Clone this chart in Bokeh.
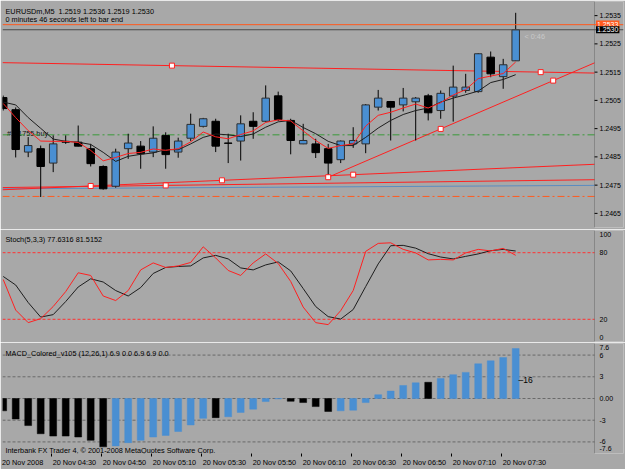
import numpy as np
from bokeh.plotting import figure
from bokeh.layouts import column
from bokeh.models import (Range1d, LinearAxis, FixedTicker, Span, Label, BoxAnnotation,
                          ColumnDataSource)
from bokeh.embed import file_html
from bokeh.resources import INLINE
from bokeh.core.properties import value

# ---------------- data ----------------
symbol_title = "EURUSDm,M5\u00a0 1.2519 1.2536 1.2519 1.2530"
timer_text = "0 minutes 46 seconds left to bar end"
bar_times = ["04:10", "04:15", "04:20", "04:25", "04:30", "04:35", "04:40", "04:45",
             "04:50", "04:55", "05:00", "05:05", "05:10", "05:15", "05:20", "05:25",
             "05:30", "05:35", "05:40", "05:45", "05:50", "05:55", "06:00", "06:05",
             "06:10", "06:15", "06:20", "06:25", "06:30", "06:35", "06:40", "06:45",
             "06:50", "06:55", "07:00", "07:05", "07:10", "07:15", "07:20", "07:25",
             "07:30", "07:35"]
tick_times = ["04:10", "04:30", "04:50", "05:10", "05:30", "05:50", "06:10",
              "06:30", "06:50", "07:10", "07:30"]
tick_labels = ["20 Nov 2008", "20 Nov 04:30", "20 Nov 04:50", "20 Nov 05:10",
               "20 Nov 05:30", "20 Nov 05:50", "20 Nov 06:10", "20 Nov 06:30",
               "20 Nov 06:50", "20 Nov 07:10", "20 Nov 07:30"]

opens = [1.25060, 1.25017, 1.24867, 1.24879, 1.24828, 1.24905, 1.24902, 1.24879,
         1.24816, 1.24746, 1.24879, 1.24888, 1.24867, 1.24926, 1.24867, 1.24916,
         1.24958, 1.24976, 1.24899, 1.24906, 1.24976, 1.24976, 1.25066, 1.24979,
         1.24896, 1.24896, 1.24879, 1.24840, 1.24896, 1.24896, 1.25026, 1.25046,
         1.25034, 1.25045, 1.25066, 1.25014, 1.25065, 1.25085, 1.25081, 1.25203,
         1.25134, 1.2519]
highs = [1.25067, 1.25025, 1.24920, 1.24890, 1.24926, 1.24926, 1.24961, 1.24896,
         1.24820, 1.24879, 1.24932, 1.24906, 1.24958, 1.24937, 1.24918, 1.25003,
         1.24988, 1.24985, 1.24932, 1.24997, 1.25008, 1.25103, 1.25081, 1.24985,
         1.24967, 1.24914, 1.24896, 1.24908, 1.24955, 1.25037, 1.25087, 1.25048,
         1.25094, 1.25062, 1.25073, 1.25085, 1.25173, 1.25144, 1.25217, 1.25223,
         1.25197, 1.2536]
lows = [1.25014, 1.24848, 1.24849, 1.24708, 1.24796, 1.24896, 1.24887, 1.24816,
        1.24734, 1.24741, 1.24843, 1.24808, 1.24849, 1.24808, 1.24847, 1.24906,
        1.24954, 1.24867, 1.24828, 1.24837, 1.24914, 1.24973, 1.24977, 1.24859,
        1.24895, 1.24846, 1.24778, 1.24828, 1.24882, 1.24863, 1.25014, 1.24908,
        1.25011, 1.24908, 1.24979, 1.24985, 1.24975, 1.25077, 1.25077, 1.25132,
        1.25091, 1.2519]
closes = [1.25021, 1.24876, 1.24890, 1.24816, 1.24896, 1.24902, 1.24888, 1.24826,
          1.24737, 1.24867, 1.24899, 1.24861, 1.24916, 1.24858, 1.24906, 1.24965,
          1.24985, 1.24888, 1.24898, 1.24967, 1.24958, 1.25058, 1.24982, 1.24908,
          1.24908, 1.24865, 1.24828, 1.24906, 1.24908, 1.25034, 1.25058, 1.25026,
          1.25058, 1.25058, 1.25006, 1.25075, 1.25097, 1.25097, 1.25215, 1.25144,
          1.25176, 1.2530]
ma_fast = [1.25039, 1.24989, 1.24943, 1.24906, 1.24905, 1.24905, 1.24901, 1.24873,
           1.24836, 1.24848, 1.24862, 1.24866, 1.24878, 1.24873, 1.24879, 1.24903,
           1.24938, 1.24921, 1.24914, 1.24929, 1.24942, 1.24972, 1.24981, 1.24977,
           1.24942, 1.24908, 1.24880, 1.24890, 1.24896, 1.24959, 1.24997, 1.25008,
           1.25023, 1.25037, 1.25023, 1.25042, 1.25069, 1.25088, 1.25127, 1.25136,
           1.25145, 1.25186]
ma_slow = [1.25044, 1.25034, 1.24989, 1.24951, 1.24913, 1.24905, 1.24902, 1.24894,
           1.24866, 1.24834, 1.24852, 1.24859, 1.24864, 1.24876, 1.24875, 1.24896,
           1.24919, 1.24931, 1.24928, 1.24922, 1.24931, 1.24955, 1.24974, 1.24979,
           1.24954, 1.24932, 1.24905, 1.24890, 1.24890, 1.24919, 1.24952, 1.24979,
           1.25000, 1.25014, 1.25023, 1.25044, 1.25058, 1.25070, 1.25083, 1.25113,
           1.25124, 1.25141]

order_label = "#111755 buy"
order_price = 1.24928
stop_price = 1.24710
bid_price = 1.2530
ask_price = 1.25318
ask_label = "1.2533"
bid_label = "1.2530"
timer_short = "< 0:46"

# trend lines: anchor bars and prices
tl_top_x = [13.5, 43.0]
tl_top_y = [1.25173, 1.25150]
tl_rise_x = [26, 35, 44]
tl_rise_y = [1.24778, 1.24949, 1.25120]
tl_low1_x = [7, 17.5, 28]
tl_low1_y = [1.24747, 1.24767, 1.24787]
tl_low2_x = [13, 47]
tl_low2_y = [1.24749, 1.24769]
tl_blue_x = [0, 47]
tl_blue_y = [1.24737, 1.24749]

price_ticks = [1.2465, 1.2475, 1.2485, 1.2495, 1.2505, 1.2515, 1.2525, 1.2535]
price_tick_labels = ["1.2465", "1.2475", "1.2485", "1.2495", "1.2505", "1.2515",
                     "1.2525", "1.2535"]

stoch_title = "Stoch(5,3,3) 77.6316 81.5152"
stoch_main = [55.9, 28.3, 17.0, 20.6, 31.5, 45.0, 61.9, 59.5, 41.0, 36.9, 45.9,
              64.5, 70.8, 66.7, 68.1, 71.2, 85.3, 75.3, 64.0, 59.5, 70.8, 78.9,
              70.3, 54.1, 31.0, 17.0, 15.2, 27.8, 45.9, 81.2, 88.4, 88.9, 83.0,
              79.8, 73.5, 74.0, 73.5, 79.8, 83.0, 81.6, 83.9, 77.63]
stoch_signal = [58.6, 50.9, 35.1, 22.0, 24.2, 36.0, 49.1, 56.5, 53.6, 45.9, 41.0,
                48.6, 61.3, 66.7, 67.6, 68.1, 75.3, 77.6, 74.4, 66.3, 64.5, 69.0,
                71.7, 63.6, 47.7, 31.5, 22.4, 20.2, 28.8, 49.5, 69.9, 86.3, 86.6,
                84.1, 79.1, 76.1, 74.4, 76.7, 78.9, 81.8, 83.0, 81.52]
stoch_levels = [20, 80]
stoch_ticks = [4, 20, 80, 96]
stoch_tick_labels = ["0", "20", "80", "100"]

macd_title = "MACD_Colored_v105 (12,26,1) 6.9 0.0 6.9 6.9 0.0"
macd = [-1.70, -2.83, -3.74, -4.87, -5.19, -5.19, -5.32, -5.78, -6.68, -6.55,
        -6.10, -5.78, -5.32, -5.10, -4.56, -3.65, -2.74, -2.65, -2.52, -1.92,
        -1.47, -0.42, -0.05, -0.38, -0.56, -1.12, -1.79, -1.70, -1.61, -0.56,
        0.52, 1.02, 1.80, 2.16, 2.24, 2.75, 3.29, 3.61, 4.79, 5.20, 5.65, 6.90]
macd_dir = ["down"] * 9 + ["up"] * 8 + ["down"] + ["up"] * 5 + ["down"] * 4 + \
           ["up"] * 7 + ["down"] + ["up"] * 7
macd_levels = [6, 3, 0, -3, -6]
macd_ticks = [7.1, 6, 3, 0, -3, -6, -6.9]
macd_tick_labels = ["7.6", "6", "3", "0.00", "-3", "-6", "-7.6"]
macd_marker_text = "\u201316"
copyright_text = "Interbank FX Trader 4, \u00a9 2001-2008 MetaQuotes Software Corp."

# ---------------- styling / layout helpers ----------------
FONT = "Liberation Sans"
BG = "#a8a8a8"
EDGE = "#3a3a3a"
BLUE = "#4a8fd2"
RED = "#ff2020"
PX_PER_BAR = 12.5
X0 = -0.056
# every panel's frame spans the full width; its price scale lives right of X_SCALE
xr = Range1d(X0, X0 + 621 / PX_PER_BAR)


def px_x(px):
    return X0 + (px - 2) / PX_PER_BAR


X_SCALE = px_x(594)   # position of the scale rule
X_LEFT = xr.start


def py_main(y):
    return 1.2540 - (y - 1) * 0.008 / 226


def py_st(y):
    return 100 - (y - 230) * 100 / 111


def py_md(y):
    return 7.6 - (y - 343) * 15.2 / 112


def base_fig(h, y0, y1, top, bottom):
    p = figure(width=625, height=h, x_range=xr, y_range=Range1d(y0, y1),
               output_backend="svg", toolbar_location=None,
               x_axis_location=None, y_axis_location=None,
               min_border_left=2, min_border_right=2,
               min_border_top=top, min_border_bottom=bottom,
               background_fill_color=BG, border_fill_color=BG,
               outline_line_color=None)
    p.xgrid.visible = False
    p.ygrid.visible = False
    # panel border: chart area ends at the scale rule
    p.add_layout(BoxAnnotation(left=X_LEFT, right=X_SCALE, bottom=y0, top=y1,
                               fill_alpha=0, line_color=EDGE, line_width=1))
    return p


def right_scale(p, ticks, labels, tick_marks=True):
    n = len(ticks)
    if tick_marks:
        p.segment(x0=[X_SCALE] * n, y0=ticks, x1=[X_SCALE + 3 / PX_PER_BAR] * n, y1=ticks,
                  line_color="black", line_width=1)
    p.text(x=[X_SCALE + 5 / PX_PER_BAR] * n, y=ticks, text=labels,
           text_font=value(FONT), text_font_size=value("7px"),
           text_baseline="middle", text_align="left", text_color="black")


def hline(p, y, color, dash="solid"):
    p.segment(x0=[X_LEFT], y0=[y], x1=[X_SCALE], y1=[y],
              line_color=color, line_dash=dash, line_width=1)


def add_label(p, x, y, text, size="7.3px", color="black", baseline="alphabetic", **kw):
    p.add_layout(Label(x=x, y=y, text=text, text_font=FONT, text_font_size=size,
                       text_color=color, text_baseline=baseline, text_align="left", **kw))


idx = np.arange(len(bar_times))

# ---------------- main price panel ----------------
p1 = base_fig(229, 1.2460, 1.2540, 1, 2)
right_scale(p1, price_ticks, price_tick_labels)

p1.text(x=[px_x(6.5)], y=[py_main(133)], text=[order_label],
        text_font=value(FONT), text_font_size=value("7.3px"),
        text_baseline="alphabetic", text_color="#111111")

hline(p1, order_price, "#3a9a3a", "7 3 2 3")
hline(p1, stop_price, "#ff5a1e", "7 3 2 3")
p1.add_layout(Span(location=ask_price, dimension="width", line_color="#ff5a1e", line_width=1))
p1.add_layout(Span(location=bid_price, dimension="width", line_color="#4a4a4a", line_width=1))


def trend_segment(xs, ys, color, x_start):
    g = (ys[-1] - ys[0]) / (xs[-1] - xs[0])
    p1.segment(x0=[x_start], y0=[ys[0] + g * (x_start - xs[0])],
               x1=[X_SCALE], y1=[ys[0] + g * (X_SCALE - xs[0])],
               line_color=color, line_width=1)


trend_segment(tl_blue_x, tl_blue_y, "#5b8cc0", X_LEFT)
trend_segment(tl_low2_x, tl_low2_y, RED, X_LEFT)
trend_segment(tl_low1_x, tl_low1_y, RED, X_LEFT)
trend_segment(tl_top_x, tl_top_y, RED, X_LEFT)
trend_segment(tl_rise_x, tl_rise_y, RED, tl_rise_x[0])

o = np.array(opens)
c = np.array(closes)
bull = c >= o
csrc = ColumnDataSource(dict(
    x=idx, h=highs, l=lows,
    top=np.maximum(o, c), bot=np.minimum(o, c),
    fill=[BLUE if b else "black" for b in bull],
    line=["#2e2e2e" if b else "black" for b in bull]))
p1.segment(x0="x", y0="l", x1="x", y1="h", source=csrc, line_color="black", line_width=1)
p1.vbar(x="x", width=0.6, top="top", bottom="bot", fill_color="fill",
        line_color="line", line_width=1, source=csrc)

p1.line(idx, ma_slow, line_color="#1e1e1e", line_width=1)
p1.line(idx, ma_fast, line_color=RED, line_width=1)

sq_x = tl_top_x + tl_rise_x + tl_low1_x + tl_low2_x[:1]
sq_y = tl_top_y + tl_rise_y + tl_low1_y + tl_low2_y[:1]
p1.scatter(sq_x, sq_y, marker="square", size=5, fill_color="white",
           line_color=RED, line_width=1)

add_label(p1, px_x(5), py_main(10.5), symbol_title)
add_label(p1, px_x(5), py_main(19), timer_text)
add_label(p1, px_x(524), py_main(35.5), timer_short, color="#c8c8c8", baseline="middle")
add_label(p1, px_x(595.5), py_main(23.5), ask_label, size="7px", color="white",
          baseline="middle", background_fill_color="#ff5a1e", padding=1)
add_label(p1, px_x(595.5), bid_price, bid_label, size="7px", color="white",
          baseline="middle", background_fill_color="black", padding=1)

# ---------------- stochastic panel ----------------
p2 = base_fig(113, 0, 100, 1, 1)
right_scale(p2, stoch_ticks, stoch_tick_labels, tick_marks=False)
for lv in stoch_levels:
    hline(p2, lv, "#ff3030", "3 2")
p2.line(idx, stoch_signal, line_color="#1e1e1e", line_width=1)
p2.line(idx, stoch_main, line_color=RED, line_width=1)
add_label(p2, px_x(5), py_st(238.5), stoch_title)

# ---------------- MACD panel ----------------
p3 = base_fig(127, -7.6, 7.6, 1, 14)
right_scale(p3, macd_ticks, macd_tick_labels, tick_marks=False)

tick_pos = [bar_times.index(t) - 2 / PX_PER_BAR for t in tick_times]
label_pos = [tp + (1.6 + 3.6 * len(lb) / 2) / PX_PER_BAR for tp, lb in zip(tick_pos, tick_labels)]
ax3 = LinearAxis(ticker=FixedTicker(ticks=label_pos, minor_ticks=tick_pos),
                 major_label_overrides=dict(zip(label_pos, tick_labels)))
ax3.axis_line_color = None
ax3.major_tick_out = 0
ax3.major_tick_in = 0
ax3.minor_tick_in = 0
ax3.minor_tick_out = 3
ax3.minor_tick_line_color = "black"
ax3.major_label_text_font = FONT
ax3.major_label_text_font_size = "7.3px"
ax3.major_label_text_color = "black"
ax3.major_label_standoff = 1
p3.add_layout(ax3, "below")

for lv in macd_levels:
    hline(p3, lv, "#6a6a6a", "3 2")
p3.text(x=[px_x(5)], y=[py_md(451.5)], text=[copyright_text],
        text_font=value(FONT), text_font_size=value("7.3px"),
        text_baseline="alphabetic", text_color="black")
msrc = ColumnDataSource(dict(x=idx, top=macd,
                             color=[BLUE if d == "up" else "black" for d in macd_dir]))
p3.vbar(x="x", width=0.55, top="top", bottom=0, fill_color="color",
        line_color="color", line_width=0.5, source=msrc)
add_label(p3, px_x(5), py_md(353.5), macd_title)
add_label(p3, px_x(518), py_md(380), macd_marker_text, size="8.5px", baseline="middle")

layout = column(p1, p2, p3, spacing=0)
open("out.html", "w").write(file_html(layout, INLINE))
